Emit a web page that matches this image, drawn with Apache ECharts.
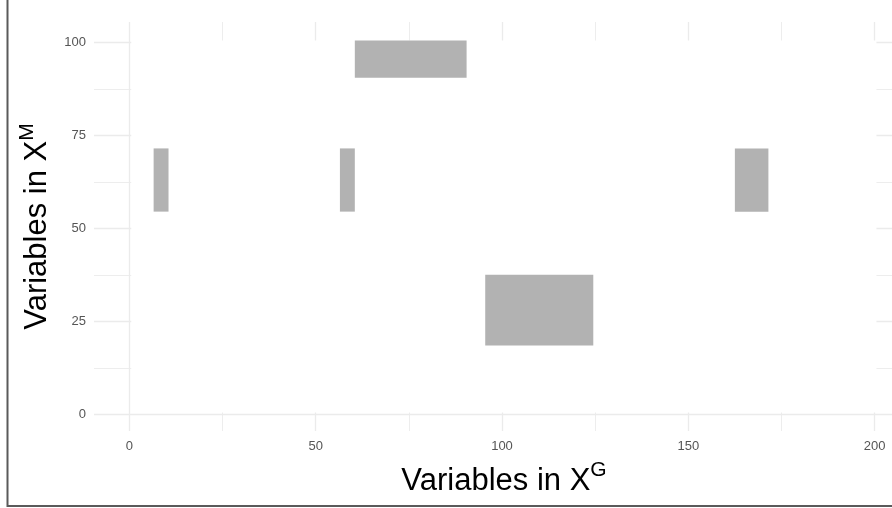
<!DOCTYPE html>
<html>
<head>
<meta charset="utf-8">
<script src="https://cdn.jsdelivr.net/npm/echarts@6/dist/echarts.min.js"></script>
<style>
html,body{margin:0;padding:0;background:#fff;}
#chart{width:892px;height:508px;}
</style>
</head>
<body>
<div id="chart"></div>
<script>
// ---- data ----
const nCols = 200;   // variables in X^G
const nRows = 100;   // variables in X^M
const blockColStart = [61, 7, 57, 163, 96];
const blockColEnd   = [90, 10, 60, 171, 124];
const blockRowStart = [91, 55, 55, 55, 19];
const blockRowEnd   = [100, 71, 71, 71, 37];
const xTicks = [0, 50, 100, 150, 200];
const yTicks = [0, 25, 50, 75, 100];
const xMinor = [25, 75, 125, 175];
const yMinor = [12.5, 37.5, 62.5, 87.5];

const blocks = blockColStart.map((c, i) => [c, blockColEnd[i], blockRowStart[i], blockRowEnd[i]]);
const field = [[1, nCols, 1, nRows]];

function tileRender(color) {
  return function (params, api) {
    const x0 = api.value(0) - 0.5, x1 = api.value(1) + 0.5;
    const y0 = api.value(2) - 0.5, y1 = api.value(3) + 0.5;
    const p0 = api.coord([x0, y1]);
    const p1 = api.coord([x1, y0]);
    return {
      type: 'rect',
      shape: { x: p0[0], y: p0[1], width: p1[0] - p0[0], height: p1[1] - p0[1] },
      style: { fill: color, stroke: null }
    };
  };
}

const gridColor = '#ebebeb';
const mkLines = []
  .concat(xTicks.map(v => ({ xAxis: v, lineStyle: { width: 1.3, color: gridColor, type: 'solid' } })))
  .concat(xMinor.map(v => ({ xAxis: v, lineStyle: { width: 0.9, color: gridColor, type: 'solid' } })))
  .concat(yTicks.map(v => ({ yAxis: v, lineStyle: { width: 1.3, color: gridColor, type: 'solid' } })))
  .concat(yMinor.map(v => ({ yAxis: v, lineStyle: { width: 0.9, color: gridColor, type: 'solid' } })));

const font = '"Liberation Sans", Arial, Helvetica, sans-serif';
const chart = echarts.init(document.getElementById('chart'), null, { renderer: 'canvas' });
chart.setOption({
  animation: false,
  backgroundColor: '#fff',
  grid: { left: 94, top: 22, right: 0, height: 409, containLabel: false },
  xAxis: {
    type: 'value', min: -9.5, max: 204.67,
    axisLine: { show: false }, axisTick: { show: false }, splitLine: { show: false },
    axisLabel: { customValues: xTicks, color: '#555', fontSize: 13, fontFamily: font, margin: 9 },
    name: '{t|Variables in X}{s|G}',
    nameLocation: 'middle', nameGap: 29,
    nameTextStyle: {
      fontFamily: font, color: '#000', padding: [0, 0, 0, 22],
      rich: {
        t: { fontSize: 31, fontFamily: font, color: '#000', lineHeight: 37, verticalAlign: 'bottom' },
        s: { fontSize: 21, fontFamily: font, color: '#000', lineHeight: 37, verticalAlign: 'top' }
      }
    }
  },
  yAxis: {
    type: 'value', min: -4.5, max: 105.5,
    axisLine: { show: false }, axisTick: { show: false }, splitLine: { show: false },
    axisLabel: { customValues: yTicks, color: '#555', fontSize: 13, fontFamily: font, margin: 8 },
    name: '{t|Variables in X}{s|M}',
    nameLocation: 'middle', nameGap: 33, nameRotate: 90,
    nameTextStyle: {
      fontFamily: font, color: '#000',
      rich: {
        t: { fontSize: 31, fontFamily: font, color: '#000', lineHeight: 37, verticalAlign: 'bottom' },
        s: { fontSize: 21, fontFamily: font, color: '#000', lineHeight: 37, verticalAlign: 'top' }
      }
    }
  },
  graphic: [{
    type: 'polyline', silent: true, z: 100,
    shape: { points: [[7.5, 0], [7.5, 506], [892, 506]] },
    style: { stroke: '#5a5a5a', lineWidth: 2, fill: null }
  }],
  series: [
    {
      type: 'line', data: [], z: 1, silent: true, symbol: 'none',
      markLine: { silent: true, z: 1, symbol: ['none', 'none'], label: { show: false }, animation: false, data: mkLines }
    },
    { type: 'custom', z: 10, silent: true, data: field, renderItem: tileRender('#ffffff'), clip: false },
    { type: 'custom', z: 11, silent: true, data: blocks, renderItem: tileRender('#b2b2b2'), clip: false }
  ]
});
</script>
</body>
</html>
